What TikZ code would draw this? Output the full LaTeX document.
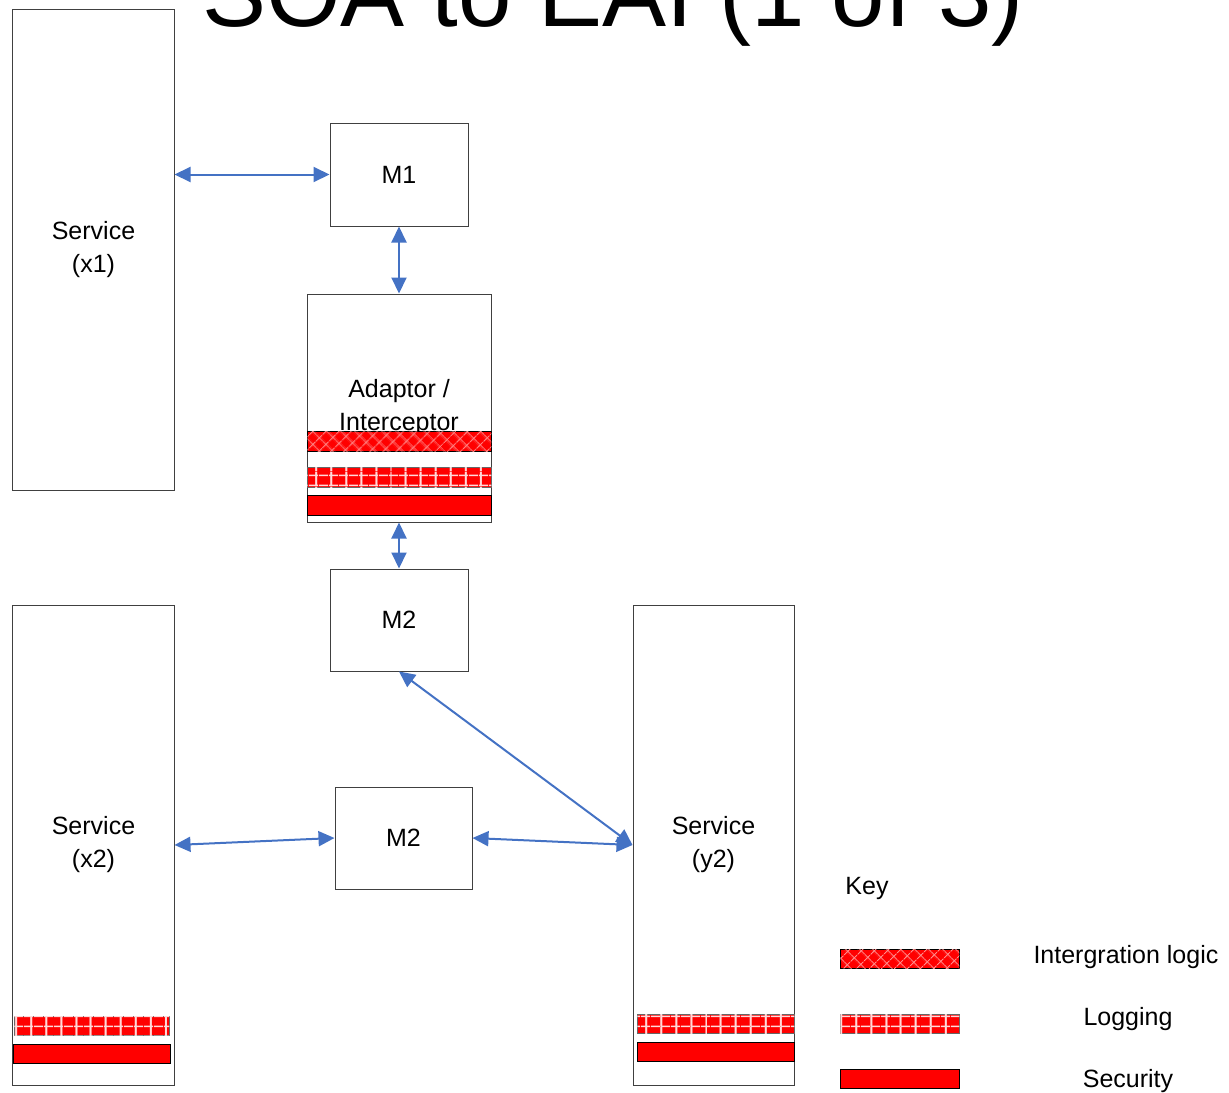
\documentclass[tikz,border=0pt]{standalone}
\usepackage{fontspec}
\setmainfont{Liberation Sans}
\usetikzlibrary{arrows.meta,patterns.meta}
\definecolor{arblue}{HTML}{4472C4}
\definecolor{barred}{HTML}{FF0000}
\definecolor{boxline}{HTML}{404040}
\tikzset{
  box/.style={rectangle, draw=boxline, line width=1bp, fill=white, inner sep=0pt,
              align=center, font=\fontsize{25bp}{33bp}\selectfont},
  secbar/.style={rectangle, draw=black, line width=0.9bp, fill=barred, inner sep=0pt,
                 anchor=north west},
  intbar/.style={secbar, postaction={pattern={Hatch[angle=45,distance=10bp,line width=1.2bp]},
                 pattern color=white!55!barred}},
  logbar/.style={secbar, draw=black!60,
                 postaction={pattern={Lines[angle=90,distance=15bp,line width=1.8bp]}, pattern color=white!85!barred},
                 postaction={pattern={Lines[angle=0,distance=9.5bp,line width=1.6bp]}, pattern color=white!85!barred}},
  lbl/.style={font=\fontsize{25bp}{30bp}\selectfont},
  ar/.style={{Triangle[length=16bp,width=15bp]}-{Triangle[length=16bp,width=15bp]}, draw=arblue, line width=2bp},
}

\begin{document}
\begin{tikzpicture}[x=1bp,y=-1bp]
\useasboundingbox (0,0) rectangle (1229,1093);
\clip (0,0) rectangle (1229,1093);

\node[font=\fontsize{96bp}{100bp}\selectfont, anchor=base] (title) at (613,26) {SOA to EAI (1 of 3)};

% services and mediators
\node[box, minimum width=161bp, minimum height=481bp] (sx1) at (93.5,250) {Service\\(x1)};
\node[box, minimum width=138bp, minimum height=103bp] (m1) at (399,174.5) {M1};
\node[box, minimum width=184bp, minimum height=228bp] (adp) at (399,408) {Adaptor /\\Interceptor};
\node[box, minimum width=138bp, minimum height=102bp] (m2a) at (399,620) {M2};
\node[box, minimum width=161bp, minimum height=480bp] (sx2) at (93.5,845) {Service\\(x2)};
\node[box, minimum width=137bp, minimum height=102bp] (m2b) at (403.5,838) {M2};
\node[box, minimum width=161bp, minimum height=480bp] (sy2) at (713.5,845) {Service\\(y2)};

% concern bars
\node[intbar, minimum width=184bp, minimum height=20bp] (adpint) at (307,431) {};
\node[logbar, minimum width=184bp, minimum height=20bp] (adplog) at (307,467) {};
\node[secbar, minimum width=184bp, minimum height=20bp] (adpsec) at (307,495) {};
\node[logbar, minimum width=155bp, minimum height=19bp] (x2log) at (14,1016) {};
\node[secbar, minimum width=157bp, minimum height=19bp] (x2sec) at (13,1044) {};
\node[logbar, minimum width=157bp, minimum height=19bp] (y2log) at (637,1014) {};
\node[secbar, minimum width=157bp, minimum height=19bp] (y2sec) at (637,1042) {};

% key
\node[lbl] (key) at (867,888) {Key};
\node[intbar, minimum width=119bp, minimum height=19bp] (keyint) at (840,949) {};
\node[logbar, minimum width=119bp, minimum height=19bp] (keylog) at (840,1014) {};
\node[secbar, minimum width=119bp, minimum height=19bp] (keysec) at (840,1069) {};
\node[lbl, anchor=west] (keyinttxt) at (1030,957) {Intergration logic};
\node[lbl] (keylogtxt) at (1128,1019) {Logging};
\node[lbl] (keysectxt) at (1128,1081) {Security};

% links
\draw[ar] (m1.west -| sx1.east) -- (m1.west);
\draw[ar] (m1.south) -- (adp.north);
\draw[ar] (adp.south) -- (m2a.north);
\draw[ar] (m2a.south) -- (sy2.west);
\draw[ar] (sx2.east) -- (m2b.west);
\draw[ar] (m2b.east) -- (sy2.west);
\end{tikzpicture}
\end{document}
